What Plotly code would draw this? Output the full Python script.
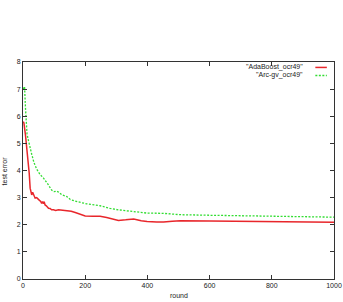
import plotly.graph_objects as go

ada_rounds = [1, 3, 8, 12, 16, 20, 23, 25, 28, 31, 33, 36, 39, 44, 49, 53, 57, 60, 63, 66, 68, 71, 75, 79, 82, 87, 92, 98, 105, 114, 125, 141, 155, 168, 185, 200, 225, 248, 269, 290, 307, 330, 356, 380, 399, 430, 452, 480, 506, 600, 700, 800, 900, 1000]
ada_error = [5.8, 5.75, 5.3, 4.9, 4.3, 3.9, 3.35, 3.22, 3.1, 3.2, 3.15, 3.05, 2.98, 3.0, 2.96, 2.9, 2.86, 2.79, 2.85, 2.78, 2.85, 2.73, 2.7, 2.65, 2.61, 2.6, 2.55, 2.55, 2.53, 2.55, 2.54, 2.53, 2.5, 2.45, 2.38, 2.32, 2.31, 2.31, 2.27, 2.2, 2.16, 2.18, 2.21, 2.15, 2.12, 2.10, 2.10, 2.13, 2.15, 2.14, 2.13, 2.12, 2.11, 2.09]

arc_rounds = [1, 5, 8, 10, 13, 17, 22, 28, 35, 44, 55, 66, 80, 92, 100, 108, 115, 125, 141, 152, 175, 205, 248, 280, 307, 350, 399, 452, 506, 600, 700, 800, 900, 1000]
arc_error = [7.0, 7.1, 6.3, 5.7, 5.35, 5.13, 4.85, 4.6, 4.3, 4.05, 3.85, 3.72, 3.5, 3.28, 3.22, 3.24, 3.2, 3.1, 3.04, 2.93, 2.85, 2.77, 2.7, 2.6, 2.55, 2.5, 2.43, 2.42, 2.37, 2.35, 2.33, 2.31, 2.30, 2.28]

series_names = ['"AdaBoost_ocr49"', '"Arc-gv_ocr49"']
x_ticks = [0, 200, 400, 600, 800, 1000]
y_ticks = [0, 1, 2, 3, 4, 5, 6, 7, 8]

RED = "#e8262b"
GREEN = "#33dd33"
TXT = "#222222"
FONT = "Liberation Sans, Arial, sans-serif"

fig = go.Figure()
fig.add_trace(go.Scatter(x=ada_rounds, y=ada_error, mode="lines",
                         line=dict(color=RED, width=1.5), showlegend=False))
fig.add_trace(go.Scatter(x=arc_rounds, y=arc_error, mode="lines",
                         line=dict(color=GREEN, width=1.3, dash="2px,1.5px"), showlegend=False))

axis_common = dict(showgrid=False, zeroline=False, showline=True, linecolor="#333333",
                   linewidth=1, mirror="ticks", ticks="inside", ticklen=4, automargin=False,
                   tickcolor="#333333", tickfont=dict(size=7, color=TXT, family=FONT))

fig.update_layout(
    width=343, height=302,
    margin=dict(l=23, r=9, t=62, b=23),
    plot_bgcolor="white", paper_bgcolor="white",
    xaxis=dict(range=[0, 1000], tickvals=x_ticks, ticktext=[str(v) for v in x_ticks],
               **axis_common),
    yaxis=dict(range=[0, 8], tickvals=y_ticks, ticktext=[str(v) for v in y_ticks],
               **axis_common),
    font=dict(family=FONT, size=7, color=TXT),
)

# axis titles
fig.add_annotation(text="round", xref="paper", yref="paper", x=0.5, y=-0.078,
                   showarrow=False, font=dict(size=7, color=TXT, family=FONT), yanchor="middle")
fig.add_annotation(text="test error", xref="paper", yref="paper", x=-0.058, y=0.5,
                   showarrow=False, textangle=-90, font=dict(size=7, color=TXT, family=FONT),
                   xanchor="center")

# legend (gnuplot style: text then line sample)
legend_rows = [(series_names[0], RED, "solid", 0.975), (series_names[1], GREEN, "2px,1.5px", 0.938)]
for name, col, dash, yy in legend_rows:
    fig.add_annotation(text=name, xref="paper", yref="paper", x=0.908, y=yy,
                       xanchor="right", yanchor="middle", showarrow=False,
                       font=dict(size=7, color=TXT, family=FONT))
    fig.add_shape(type="line", xref="paper", yref="paper", x0=0.94, x1=0.977, y0=yy, y1=yy,
                  line=dict(color=col, width=1.5, dash=dash))

fig.write_html("out.html")
